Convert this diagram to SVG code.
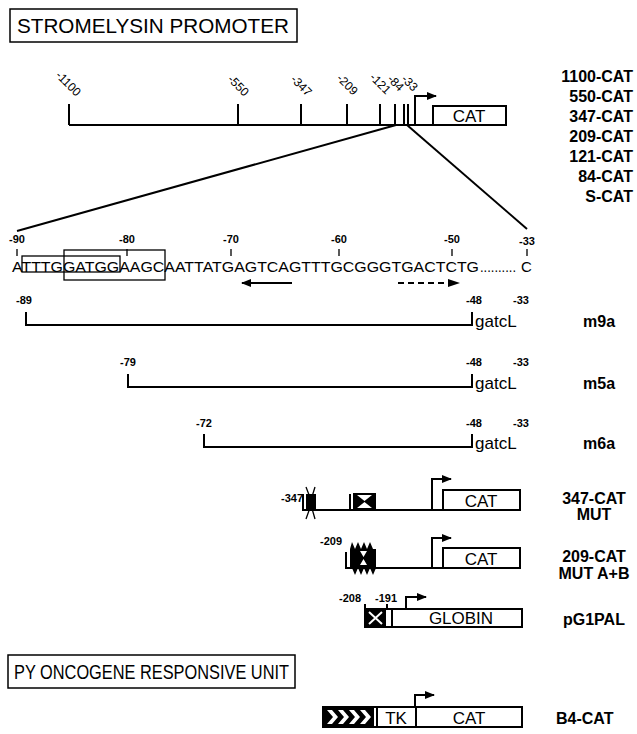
<svg xmlns="http://www.w3.org/2000/svg" width="637" height="734" viewBox="0 0 637 734">
<style>
text{font-family:"Liberation Sans",Arial,sans-serif;fill:#000}
.ttl{font-size:20px}
.lab{font-size:16px;font-weight:bold;text-anchor:end}
.labm{font-size:16px;font-weight:bold;text-anchor:middle}
.rl{font-size:16px;font-weight:bold}
.tk{font-size:12px;text-anchor:end}
.num{font-size:11px;font-weight:bold;text-anchor:middle}
.seq{font-size:15px}
.bx{font-size:17px;text-anchor:middle}
.ln{stroke:#000;stroke-width:2;fill:none}
.thin{stroke:#000;stroke-width:1.3;fill:none}
.box{stroke:#000;stroke-width:2;fill:#fff}
.blk{fill:#000}
.wh{fill:#fff}
</style>
<defs>
<marker id="ah" viewBox="0 0 10 10" refX="9" refY="5" markerWidth="5" markerHeight="5" orient="auto" markerUnits="strokeWidth">
<path d="M0,1 L10,5 L0,9 Z" fill="#000"/>
</marker>
</defs>

<g id="title1">
<rect x="10" y="9" width="287" height="33" fill="none" stroke="#000" stroke-width="1.5"/>
<text class="ttl" x="17" y="33" textLength="272" lengthAdjust="spacingAndGlyphs">STROMELYSIN  PROMOTER</text>
</g>

<g id="promoter">
<path class="ln" d="M69,125 H433 M69,125 V104 M238,125 V104 M301,125 V104 M347,125 V104 M380,125 V104 M395,125 V104 M404,125 V104 M408,125 V104"/>
<path class="ln" d="M415,125 V96 H436" marker-end="url(#ah)"/>
<rect class="box" x="433" y="106" width="73" height="19"/>
<text class="bx" x="469" y="122">CAT</text>
<text class="tk" transform="translate(76,97) rotate(45)">-1100</text>
<text class="tk" transform="translate(244,97) rotate(45)">-550</text>
<text class="tk" transform="translate(307,97) rotate(45)">-347</text>
<text class="tk" transform="translate(353,96) rotate(45)">-209</text>
<text class="tk" transform="translate(386,95) rotate(45)">-121</text>
<text class="tk" transform="translate(399,92) rotate(45)">-84</text>
<text class="tk" transform="translate(413,92) rotate(45)">-33</text>
</g>

<g id="clones">
<text class="lab" x="633" y="82">1100-CAT</text>
<text class="lab" x="633" y="102">550-CAT</text>
<text class="lab" x="633" y="122">347-CAT</text>
<text class="lab" x="633" y="142">209-CAT</text>
<text class="lab" x="633" y="162">121-CAT</text>
<text class="lab" x="633" y="182">84-CAT</text>
<text class="lab" x="633" y="202">S-CAT</text>
</g>

<g id="connectors">
<path class="ln" d="M396,125 L17,231"/>
<path class="ln" d="M407,125 L527,229"/>
</g>

<g id="sequence">
<text class="num" x="17" y="243">-90</text>
<text class="num" x="127" y="243">-80</text>
<text class="num" x="231" y="243">-70</text>
<text class="num" x="339" y="243">-60</text>
<text class="num" x="452" y="243">-50</text>
<text class="num" x="527" y="245">-33</text>
<path class="thin" d="M17,249 V256 M127,249 V256 M231,249 V256 M339,249 V256 M452,249 V256 M527,249 V256"/>
<text class="seq" x="12" y="272" textLength="467" lengthAdjust="spacingAndGlyphs">ATTTGGATGGAAGCAATTATGAGTCAGTTTGCGGGTGACTCTG</text>
<text class="seq" x="480" y="272" textLength="36" lengthAdjust="spacingAndGlyphs">..........</text>
<text class="seq" x="521" y="272">C</text>
<rect x="22" y="256" width="98" height="16" fill="none" stroke="#000" stroke-width="1.3"/>
<rect x="64" y="250" width="101" height="30" fill="none" stroke="#000" stroke-width="1.3"/>
<path class="ln" d="M292,283 H242" marker-end="url(#ah)"/>
<path class="ln" d="M398,283 H452" stroke-dasharray="6,4"/>
<path d="M448,279 L460,283 L448,287 Z" class="blk"/>
</g>

<g id="m9a">
<text class="num" x="24" y="304">-89</text>
<text class="num" x="474" y="304">-48</text>
<text class="num" x="521" y="304">-33</text>
<path class="ln" d="M26,312 V325 H472 V312"/>
<text x="475" y="327" font-size="17">gatcL</text>
<text class="rl" x="583" y="327">m9a</text>
</g>

<g id="m5a">
<text class="num" x="128" y="366">-79</text>
<text class="num" x="474" y="366">-48</text>
<text class="num" x="521" y="366">-33</text>
<path class="ln" d="M128,374 V387 H472 V374"/>
<text x="475" y="389" font-size="17">gatcL</text>
<text class="rl" x="583" y="389">m5a</text>
</g>

<g id="m6a">
<text class="num" x="204" y="427">-72</text>
<text class="num" x="474" y="427">-48</text>
<text class="num" x="521" y="427">-33</text>
<path class="ln" d="M204,434 V447 H472 V434"/>
<text x="475" y="449" font-size="17">gatcL</text>
<text class="rl" x="583" y="449">m6a</text>
</g>

<g id="mut347">
<text class="num" x="292" y="502">-347</text>
<path class="ln" d="M303,494 V510 H443 M350,494 V510"/>
<rect class="blk" x="306" y="494" width="10" height="17"/>
<path class="thin" d="M306,487 L311,500 L315,487 M306,519 L311,505 L315,519"/>
<rect class="blk" x="353" y="493" width="23" height="17"/>
<path class="wh" d="M357,495 H372 L364.5,501 Z M357,508 H372 L364.5,502 Z"/>
<path class="ln" d="M432,510 V479 H451" marker-end="url(#ah)"/>
<rect class="box" x="443" y="490" width="77" height="20"/>
<text class="bx" x="481" y="507">CAT</text>
<text class="labm" x="594" y="504">347-CAT</text>
<text class="labm" x="594" y="520">MUT</text>
</g>

<g id="mut209">
<text class="num" x="331" y="545">-209</text>
<path class="ln" d="M346,552 V568 H443"/>
<path class="blk" d="M350,549 L352,542 L355,549 L358,542 L361,549 L364,542 L367,549 L370,542 L373,549 L376,549 V568 L373,575 L370,568 L367,575 L364,568 L361,575 L358,568 L355,575 L352,568 L350,568 Z"/>
<path class="wh" d="M360,551 H367 L363.5,557 Z M360,565 H367 L363.5,559 Z"/>
<path class="ln" d="M432,568 V538 H451" marker-end="url(#ah)"/>
<rect class="box" x="443" y="548" width="77" height="20"/>
<text class="bx" x="481" y="565">CAT</text>
<text class="labm" x="594" y="562">209-CAT</text>
<text class="labm" x="594" y="579">MUT A+B</text>
</g>

<g id="pg1pal">
<text class="num" x="350" y="602">-208</text>
<text class="num" x="386" y="602">-191</text>
<path class="ln" d="M365,604 V610 M387,604 V610"/>
<rect class="box" x="365" y="609" width="157" height="18"/>
<rect class="blk" x="365" y="609" width="21" height="18"/>
<path d="M369,612 L382,624 M382,612 L369,624" stroke="#fff" stroke-width="2"/>
<path class="ln" d="M392,609 V627"/>
<path class="ln" d="M406,609 V597 H426" marker-end="url(#ah)"/>
<text class="bx" x="461" y="624">GLOBIN</text>
<text class="rl" x="563" y="625">pG1PAL</text>
</g>

<g id="title2">
<rect x="8" y="655" width="287" height="33" fill="none" stroke="#000" stroke-width="1.5"/>
<text class="ttl" x="14" y="679" textLength="275" lengthAdjust="spacingAndGlyphs">PY ONCOGENE RESPONSIVE UNIT</text>
</g>

<g id="b4cat">
<rect class="box" x="323" y="707" width="199" height="20"/>
<rect class="blk" x="323" y="707" width="51" height="20"/>
<path class="wh" d="M327,710 L332,710 L338,717 L332,724 L327,724 L333,717 Z M338,710 L343,710 L349,717 L343,724 L338,724 L344,717 Z M349,710 L354,710 L360,717 L354,724 L349,724 L355,717 Z M360,710 L365,710 L371,717 L365,724 L360,724 L366,717 Z"/>
<path class="ln" d="M377,707 V727 M416,707 V727"/>
<path class="ln" d="M415,707 V695 H434" marker-end="url(#ah)"/>
<text class="bx" x="396" y="724">TK</text>
<text class="bx" x="469" y="724">CAT</text>
<text class="rl" x="556" y="724">B4-CAT</text>
</g>
</svg>
